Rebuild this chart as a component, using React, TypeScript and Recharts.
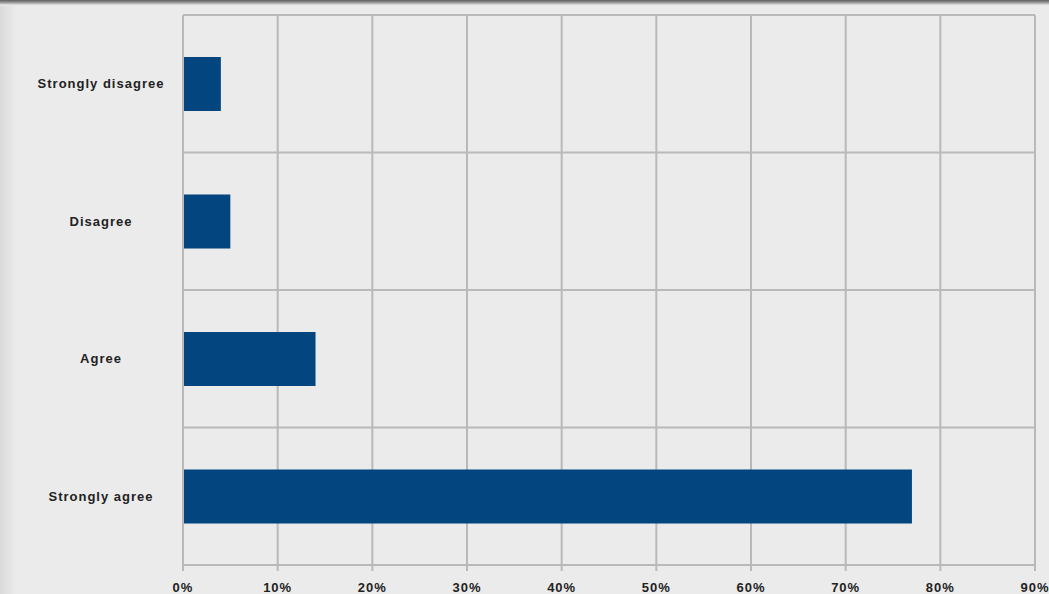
import { BarChart, Bar, XAxis, YAxis, CartesianGrid } from "recharts";

/* ── data ── */
const categories = ["Strongly disagree", "Disagree", "Agree", "Strongly agree"];
const shares = [0.04, 0.05, 0.14, 0.77];
const xTicks = [0, 0.1, 0.2, 0.3, 0.4, 0.5, 0.6, 0.7, 0.8, 0.9];

const data = categories.map((c, i) => ({ name: c, value: shares[i] }));

const GRID = "#b9b9b9";
const BLUE = "#03457f";
const FONT = "'Liberation Sans', Arial, sans-serif";

/* category labels sit centred in the left gutter */
function CategoryTick(props: any) {
  const { y, payload } = props;
  return (
    <text
      x={101}
      y={y}
      dy="0.35em"
      textAnchor="middle"
      fontFamily={FONT}
      fontSize={13}
      fontWeight={700}
      letterSpacing={1}
      fill="#222"
    >
      {payload.value}
    </text>
  );
}

/* horizontal grid on the band edges, not the band centres */
function bandEdges({ offset }: any) {
  const n = categories.length;
  const step = offset.height / n;
  return Array.from({ length: n + 1 }, (_, i) => offset.top + i * step);
}

export default function App() {
  return (
    <div
      style={{
        position: "fixed",
        inset: 0,
        width: 1049,
        height: 594,
        overflow: "hidden",
        background:
          "linear-gradient(to right, #d9d9d9 0px, #ebebeb 16px, #ebebeb 100%)",
      }}
    >
      <div
        style={{
          position: "absolute",
          left: 0,
          top: 0,
          width: 1049,
          height: 6,
          background: "linear-gradient(to bottom, #5e5e5e 0px, #8a8a8a 2px, #e4e4e4 5px, #ebebeb 6px)",
        }}
      />
      <div style={{ position: "absolute", left: 0, top: 0 }}>
        <BarChart
          width={1049}
          height={594}
          data={data}
          layout="vertical"
          margin={{ top: 15, right: 14, bottom: 0, left: 0 }}
        >
          <CartesianGrid
            stroke={GRID}
            strokeWidth={2}
            horizontalCoordinatesGenerator={bandEdges}
          />
          <XAxis
            type="number"
            dataKey="value"
            domain={[0, 0.9]}
            ticks={xTicks}
            interval={0}
            height={29}
            tickSize={6}
            tickMargin={12}
            stroke={GRID}
            axisLine={{ stroke: GRID, strokeWidth: 2 }}
            tickLine={{ stroke: GRID, strokeWidth: 2 }}
            tickFormatter={(v: number) => `${Math.round(v * 100)}%`}
            tick={{ fill: "#222", fontSize: 13, fontWeight: 700, fontFamily: FONT, letterSpacing: 1 }}
          />
          <YAxis
            type="category"
            dataKey="name"
            width={183}
            axisLine={{ stroke: GRID, strokeWidth: 2 }}
            tickLine={false}
            tick={<CategoryTick />}
          />
          <Bar dataKey="value" fill={BLUE} barSize={54} isAnimationActive={false} />
        </BarChart>
      </div>
    </div>
  );
}
